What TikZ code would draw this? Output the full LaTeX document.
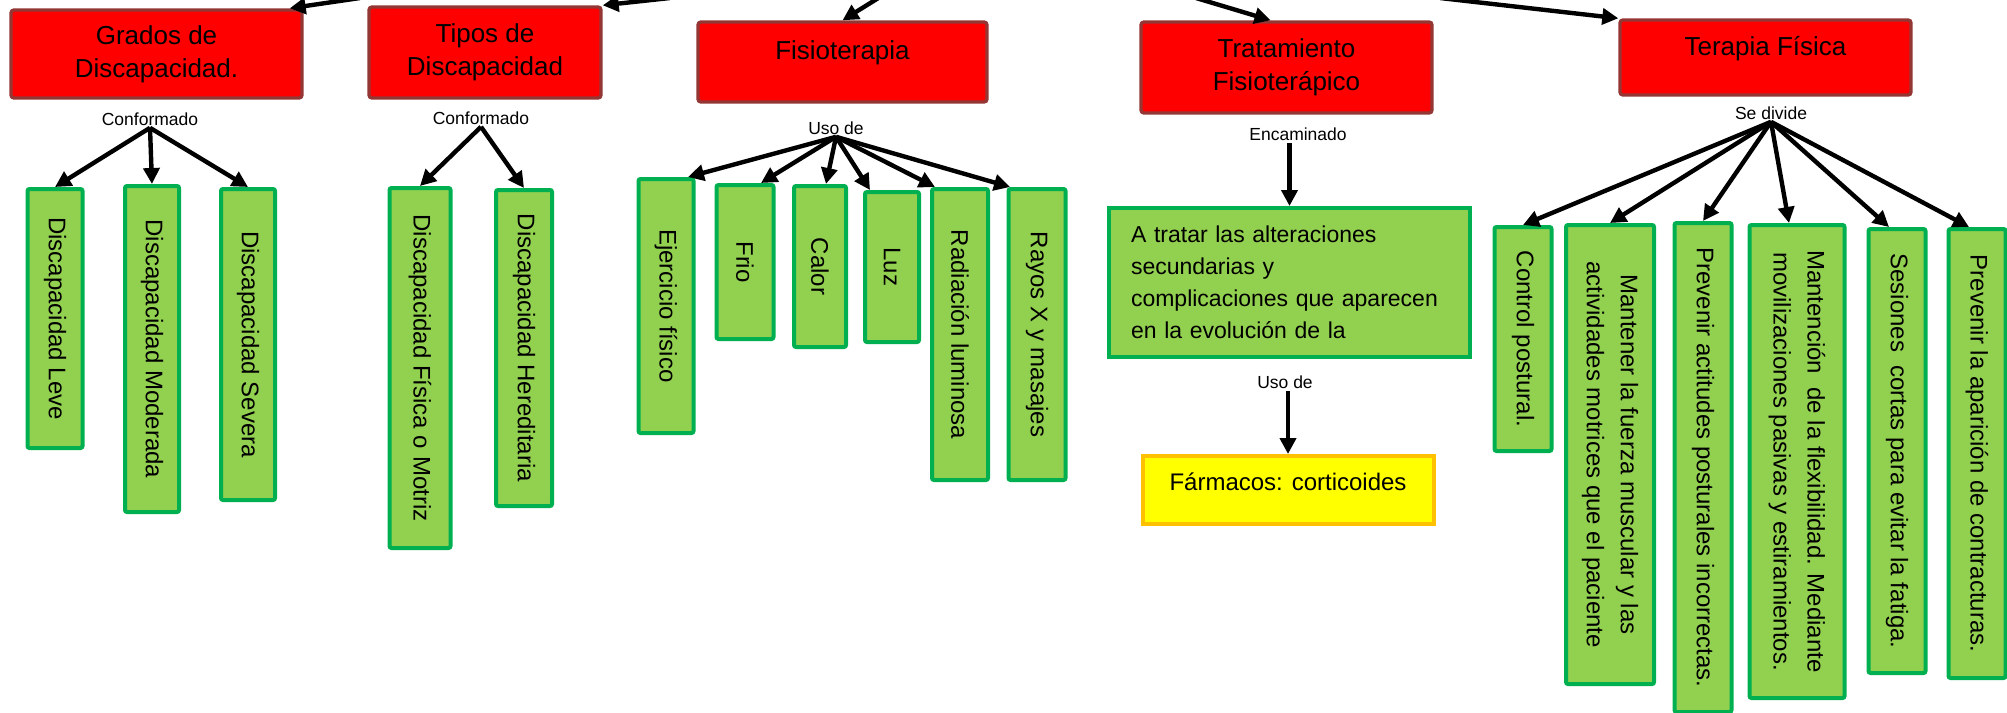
\documentclass[tikz,border=0pt]{standalone}
\usepackage{fontspec}
\setmainfont{Liberation Sans}
\usetikzlibrary{arrows.meta}

\definecolor{rojo}{HTML}{FF0000}
\definecolor{rojoborde}{HTML}{943634}
\definecolor{verde}{HTML}{92D050}
\definecolor{verdeborde}{HTML}{00B050}
\definecolor{amarillo}{HTML}{FFFF00}
\definecolor{naranja}{HTML}{FFC000}

\begin{document}
\begin{tikzpicture}[x=0.5pt, y=-0.5pt,
  titulo/.style={draw=rojoborde, line width=1.7pt, fill=rojo, rounded corners=1.5pt, inner sep=0pt, align=center, font=\fontsize{13}{16.5}\selectfont},
  enlace/.style={inner sep=1pt, font=\fontsize{8.75}{10}\selectfont},
  vert/.style={draw=verdeborde, line width=2pt, fill=verde, rounded corners=1pt, inner sep=0pt, rotate=-90, align=center, font=\fontsize{12}{17}\selectfont},
  flecha/.style={line width=2.2pt, -{Triangle[length=8pt,width=8pt]}}]
\useasboundingbox (0,0) rectangle (2007,712);

					\node[titulo, minimum width=145.5pt, minimum height=44pt] (grados) at (156.5,54) {Grados de\\Discapacidad.};
					\node[titulo, minimum width=116pt, minimum height=45.5pt] (tipos) at (485,52.5) {Tipos de\\Discapacidad};
					\node[titulo, minimum width=144.5pt, minimum height=40pt] (fisio) at (842.5,62) {Fisioterapia\\[-5pt]~};
					\node[titulo, minimum width=145.5pt, minimum height=45.5pt] (trat) at (1286.5,67.5) {Tratamiento\\Fisioterápico};
					\node[titulo, minimum width=145.5pt, minimum height=37.5pt] (terapia) at (1765.5,57.5) {Terapia Física\\[-5pt]~};

					\coordinate (arribaA) at (360,-2);
					\coordinate (arribaB) at (670,-2);
					\coordinate (arribaC) at (880,-3);
					\coordinate (arribaD) at (1196,-2);
					\coordinate (arribaE) at (1440,-2);
					\draw[flecha] (arribaA) -- ([xshift=-7pt]grados.north east);
					\draw[flecha] (arribaB) -- (tipos.north east);
					\draw[flecha] (arribaC) -- (fisio.north);
					\draw[flecha] (arribaD) -- ([xshift=-8pt]trat.north);
					\draw[flecha] (arribaE) -- (terapia.north west);

					\node[enlace] (conf1) at (150,119) {Conformado};
					\node[enlace] (conf2) at (481,118) {Conformado};
					\node[enlace] (uso1) at (836,128) {Uso de};
					\node[enlace] (encam) at (1298,134) {Encaminado};
					\node[enlace] (divide) at (1771,113) {Se divide};
					\node[enlace] (uso2) at (1285,382) {Uso de};

					\node[vert, minimum width=129.5pt, minimum height=27.5pt] (leve) at (55,318.5) {Discapacidad Leve};
					\node[vert, minimum width=163pt, minimum height=27pt] (moderada) at (152,349) {Discapacidad Moderada};
					\node[vert, minimum width=155.5pt, minimum height=27pt] (severa) at (248,344.5) {Discapacidad Severa};
					\node[vert, minimum width=180pt, minimum height=30.5pt] (fisica) at (420,368) {Discapacidad Física o Motriz};
					\node[vert, minimum width=158pt, minimum height=28pt] (hered) at (524,348) {Discapacidad Hereditaria};

					\node[vert, minimum width=127pt, minimum height=27.5pt] (ejer) at (666,306) {Ejercicio físico};
					\node[vert, minimum width=77pt, minimum height=28.5pt] (frio) at (745,262) {Frio};
					\node[vert, minimum width=80.5pt, minimum height=26pt] (calor) at (820,266.5) {Calor};
					\node[vert, minimum width=75pt, minimum height=27pt] (luz) at (892,267) {Luz};
					\node[vert, minimum width=145.5pt, minimum height=28pt] (radia) at (960,334.5) {Radiación luminosa};
					\node[vert, minimum width=145.5pt, minimum height=28.5pt] (rayos) at (1037,334.5) {Rayos X y masajes};

					\node[draw=verdeborde, line width=2pt, fill=verde, text width=158.5pt, inner xsep=11pt, minimum height=74.5pt, align=left, font=\fontsize{11.5}{16}\selectfont] (atratar) at (1289.5,282.5) {A tratar las alteraciones\\secundarias y\\complicaciones que aparecen\\en la evolución de la};
					\node[draw=naranja, line width=2pt, fill=amarillo, minimum width=145.5pt, minimum height=34pt, text height=9pt, text depth=8.5pt, font=\fontsize{12}{14}\selectfont] (farmacos) at (1288,490) {Fármacos: corticoides};

					\node[vert, minimum width=112pt, minimum height=28.5pt] (control) at (1523,339) {Control postural.};
					\node[vert, minimum width=229.5pt, minimum height=44pt] (mantener) at (1610,454.5) {Mantener la fuerza muscular y las\\actividades motrices que el paciente};
					\node[vert, minimum width=244.5pt, minimum height=28.5pt] (prevenir1) at (1703,467.5) {Prevenir actitudes posturales incorrectas.};
					\node[vert, minimum width=236.5pt, minimum height=47.5pt] (mantencion) at (1797,461.5) {Mantención\ \ de la flexibilidad. Mediante\\movilizaciones pasivas y estiramientos.};
					\node[vert, minimum width=222pt, minimum height=28.5pt] (sesiones) at (1897,451) {Sesiones\ \ cortas para evitar la fatiga.};
					\node[vert, minimum width=224.5pt, minimum height=28.5pt] (prevenir2) at (1977,453.5) {Prevenir la aparición de contracturas.};

					\foreach \hijo in {leve,moderada,severa}
						\draw[flecha] (conf1.south) -- (\hijo.west);
					\foreach \hijo in {fisica,hered}
						\draw[flecha] (conf2.south) -- (\hijo.west);
					\foreach \hijo/\desp in {ejer/11pt,frio/8pt,calor/3pt,luz/-11pt,radia/-12.5pt,rayos/-13.5pt}
						\draw[flecha] (uso1.south) -- ([xshift=\desp]\hijo.west);
					\draw[flecha] (encam.south -| atratar.north) -- (atratar.north);
					\draw[flecha] (uso2.south -| farmacos.north) -- (farmacos.north);
					\foreach \hijo/\desp in {control/0pt,mantener/0pt,prevenir1/0pt,mantencion/-4pt,sesiones/-4pt,prevenir2/-4pt}
						\draw[flecha] (divide.south) -- ([xshift=\desp]\hijo.west);

\end{tikzpicture}
\end{document}
